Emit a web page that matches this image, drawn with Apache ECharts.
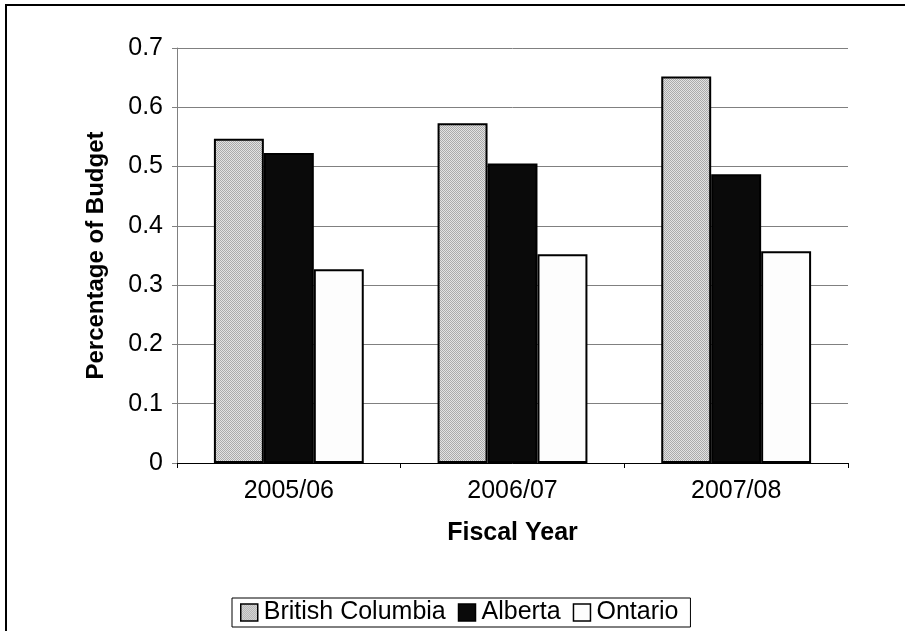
<!DOCTYPE html>
<html>
<head>
<meta charset="utf-8">
<style>
  html, body { margin: 0; padding: 0; background: #fff; }
  #chart { width: 905px; height: 631px; }
</style>
<script src="https://cdn.jsdelivr.net/npm/echarts@6/dist/echarts.min.js"></script>
</head>
<body>
<div id="chart"></div>
<script>
// Fiscal years on the category axis
const years = ['2005/06', '2006/07', '2007/08'];
// Share of budget by province
const britishColumbia = [0.547, 0.573, 0.652];
const alberta = [0.523, 0.505, 0.487];
const ontario = [0.327, 0.352, 0.357];
// Value axis
const yMin = 0, yMax = 0.7, yStep = 0.1;

const FONT = '"Liberation Sans", Arial, sans-serif';
const FS = 25;

// Fine grey stipple used for the British Columbia bars
function hatchPattern() {
  const c = document.createElement('canvas');
  c.width = 2; c.height = 2;
  const g = c.getContext('2d');
  g.fillStyle = '#e2e2e2';
  g.fillRect(0, 0, 2, 2);
  g.fillStyle = '#aaaaaa';
  g.fillRect(0, 0, 1, 1);
  g.fillRect(1, 1, 1, 1);
  return { image: c, repeat: 'repeat' };
}

const chart = echarts.init(document.getElementById('chart'), null, { renderer: 'canvas' });

const barBase = { type: 'bar', barGap: '0%', barCategoryGap: '33%', animation: false };

chart.setOption({
  backgroundColor: '#fff',
  textStyle: { fontFamily: FONT },
  graphic: [{
    type: 'rect',
    shape: { x: 6, y: 5, width: 1000, height: 1000 },
    style: { fill: 'none', stroke: '#000', lineWidth: 2 },
    silent: true
  }],
  grid: { left: 177, right: 57, top: 48, bottom: 168 },
  legend: {
    left: 232, top: 598,
    icon: 'rect',
    itemWidth: 17, itemHeight: 17, itemGap: 12,
    padding: [2, 12, 2, 8],
    borderColor: '#000', borderWidth: 1,
    itemStyle: { borderWidth: 1.5 },
    textStyle: { fontFamily: FONT, fontSize: FS, color: '#000', padding: [0, 0, 0, 1] },
    data: ['British Columbia', 'Alberta', 'Ontario']
  },
  xAxis: {
    type: 'category',
    data: years,
    name: 'Fiscal Year',
    nameLocation: 'middle',
    nameGap: 58,
    nameTextStyle: { fontFamily: FONT, fontSize: FS, fontWeight: 'bold', color: '#000' },
    axisLine: { lineStyle: { color: '#000', width: 1 } },
    axisTick: { show: true, inside: false, length: 5, lineStyle: { color: '#000' } },
    axisLabel: { fontFamily: FONT, fontSize: FS, color: '#000', margin: 16 }
  },
  yAxis: {
    type: 'value',
    min: yMin, max: yMax, interval: yStep,
    name: 'Percentage of Budget',
    nameLocation: 'middle',
    nameGap: 69,
    nameTextStyle: { fontFamily: FONT, fontSize: 24, fontWeight: 'bold', color: '#000' },
    axisLine: { show: true, lineStyle: { color: '#808080', width: 1 } },
    axisTick: { show: true, length: 5, lineStyle: { color: '#808080' } },
    axisLabel: { fontFamily: FONT, fontSize: FS, color: '#000', margin: 14,
      formatter: v => (v === 0 ? '0' : v.toFixed(1)) },
    splitLine: { show: true, lineStyle: { color: '#808080', width: 1 } }
  },
  series: [
    Object.assign({}, barBase, {
      name: 'British Columbia', data: britishColumbia,
      itemStyle: { color: hatchPattern(), borderColor: '#000', borderWidth: 2 }
    }),
    Object.assign({}, barBase, {
      name: 'Alberta', data: alberta,
      itemStyle: { color: '#0a0a0a', borderColor: '#000', borderWidth: 2 }
    }),
    Object.assign({}, barBase, {
      name: 'Ontario', data: ontario,
      itemStyle: { color: '#fdfdfd', borderColor: '#000', borderWidth: 2 }
    })
  ]
});
</script>
</body>
</html>
